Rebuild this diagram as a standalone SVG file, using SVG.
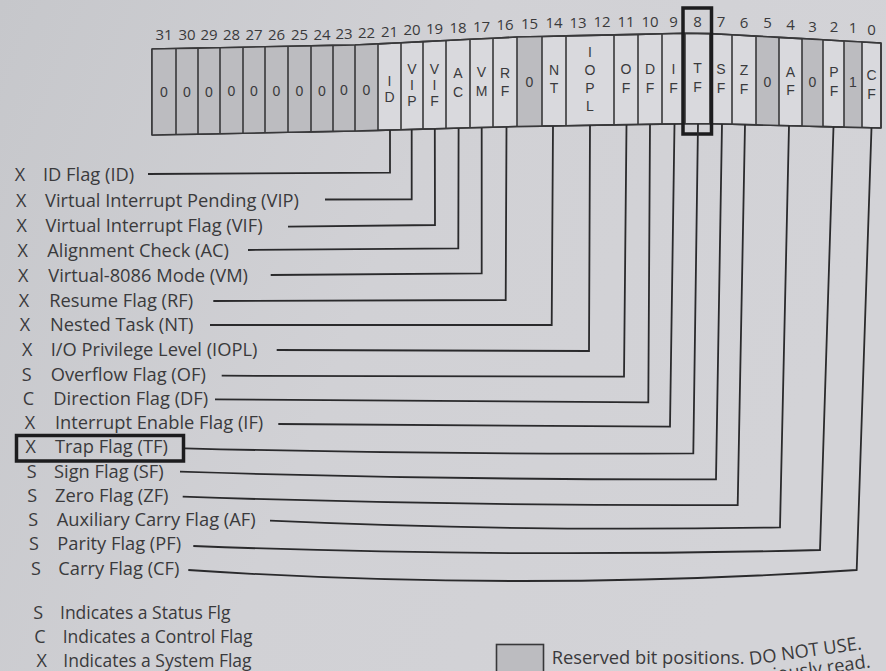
<svg xmlns="http://www.w3.org/2000/svg" width="886" height="671" viewBox="0 0 886 671">
<defs>
<linearGradient id="bg" x1="0" y1="0" x2="1" y2="0.3">
<stop offset="0" stop-color="#c6c7cb"/>
<stop offset="0.5" stop-color="#d1d1d5"/>
<stop offset="1" stop-color="#d3d3d7"/>
</linearGradient>
<style>
text{font-family:"Open Sans","Noto Sans","Liberation Sans",sans-serif;fill:#3a3a3c}
.lbl{font-size:18.3px}
.leg{font-size:17.5px}
.key{font-size:18px;text-anchor:middle}
.cell{font-family:"Liberation Sans","DejaVu Sans",sans-serif;font-size:14px;text-anchor:middle}
.num{font-size:15px;text-anchor:middle}
.conn{fill:none;stroke:#2a2a2c;stroke-width:1.8}
.reg{fill:#d9d9dd;stroke:#38383a;stroke-width:1.6}
.res{fill:#bcbcc0;stroke:none}
.div{fill:none;stroke:#38383a;stroke-width:1.6}
.hl{fill:none;stroke:#1c1c1e;stroke-width:3.5}
</style>
</defs>
<rect width="886" height="671" fill="url(#bg)"/>

<g id="register">
<path class="reg" d="M152,49 L176,48.5 L198,48.1 L220,47.7 L243,47.2 L265,46.8 L288,46.3 L311,45.9 L333,45.4 L355,45 L378,43.9 L401,42.7 L423,41.6 L446,40.5 L470,39.3 L493,38.2 L517,37 L542,36.5 L566,35.9 L614,34.9 L638,34.4 L662,33.8 L685,33.3 L710,33.6 L732,34.8 L756,36.1 L779,37.4 L802,38.6 L823,39.8 L844,41 L862,42 L881,43 L881,128 L862,127.5 L844,127.1 L823,126.6 L802,126 L779,125.5 L756,124.9 L732,124.3 L710,123.7 L685,123.7 L662,124.1 L638,124.5 L614,124.9 L566,125.7 L542,126.1 L517,126.5 L493,127.2 L470,127.8 L446,128.5 L423,129.1 L401,129.7 L378,130.4 L355,131 L333,131.4 L311,131.9 L288,132.3 L265,132.8 L243,133.2 L220,133.7 L198,134.1 L176,134.5 L152,135 Z"/>
<polygon class="res" points="152,49 176,48.5 198,48.1 220,47.7 243,47.2 265,46.8 288,46.3 311,45.9 333,45.4 355,45 378,43.9 378,130.4 355,131 333,131.4 311,131.9 288,132.3 265,132.8 243,133.2 220,133.7 198,134.1 176,134.5 152,135"/>
<polygon class="res" points="517,37 542,36.5 542,126.1 517,126.5"/>
<polygon class="res" points="756,36.1 779,37.4 779,125.5 756,124.9"/>
<polygon class="res" points="802,38.6 823,39.8 823,126.6 802,126"/>
<polygon class="res" points="844,41 862,42 862,127.5 844,127.1"/>
<path class="div" d="M152,49 L152,135 M881,128 L881,43 M176,48.5 V134.5 M198,48.1 V134.1 M220,47.7 V133.7 M243,47.2 V133.2 M265,46.8 V132.8 M288,46.3 V132.3 M311,45.9 V131.9 M333,45.4 V131.4 M355,45 V131 M378,43.9 V130.4 M401,42.7 V129.7 M423,41.6 V129.1 M446,40.5 V128.5 M470,39.3 V127.8 M493,38.2 V127.2 M517,37 V126.5 M542,36.5 V126.1 M566,35.9 V125.7 M614,34.9 V124.9 M638,34.4 V124.5 M662,33.8 V124.1 M685,33.3 V123.7 M710,33.6 V123.7 M732,34.8 V124.3 M756,36.1 V124.9 M779,37.4 V125.5 M802,38.6 V126 M823,39.8 V126.6 M844,41 V127.1 M862,42 V127.5"/>
<path class="div" d="M152,49 L176,48.5 L198,48.1 L220,47.7 L243,47.2 L265,46.8 L288,46.3 L311,45.9 L333,45.4 L355,45 L378,43.9 L401,42.7 L423,41.6 L446,40.5 L470,39.3 L493,38.2 L517,37 L542,36.5 L566,35.9 L614,34.9 L638,34.4 L662,33.8 L685,33.3 L710,33.6 L732,34.8 L756,36.1 L779,37.4 L802,38.6 L823,39.8 L844,41 L862,42 L881,43 M881,128 L862,127.5 L844,127.1 L823,126.6 L802,126 L779,125.5 L756,124.9 L732,124.3 L710,123.7 L685,123.7 L662,124.1 L638,124.5 L614,124.9 L566,125.7 L542,126.1 L517,126.5 L493,127.2 L470,127.8 L446,128.5 L423,129.1 L401,129.7 L378,130.4 L355,131 L333,131.4 L311,131.9 L288,132.3 L265,132.8 L243,133.2 L220,133.7 L198,134.1 L176,134.5 L152,135"/>
<g>
<text class="num" x="164" y="40">31</text><text class="num" x="187" y="40">30</text><text class="num" x="209" y="40">29</text><text class="num" x="231.5" y="40">28</text><text class="num" x="254" y="40">27</text><text class="num" x="276.5" y="40">26</text><text class="num" x="299.5" y="40">25</text><text class="num" x="322" y="39.5">24</text><text class="num" x="344" y="39">23</text><text class="num" x="366.5" y="38.3">22</text><text class="num" x="389.5" y="36.7">21</text><text class="num" x="412" y="35">20</text><text class="num" x="434.5" y="34.3">19</text><text class="num" x="458" y="33.3">18</text><text class="num" x="481.5" y="32.3">17</text><text class="num" x="505" y="30">16</text><text class="num" x="529.5" y="29">15</text><text class="num" x="554" y="28.3">14</text><text class="num" x="578" y="27.7">13</text><text class="num" x="602" y="27">12</text><text class="num" x="626" y="26.7">11</text><text class="num" x="650" y="26.7">10</text><text class="num" x="673.5" y="26.7">9</text><text class="num" x="697.5" y="26.7">8</text><text class="num" x="721" y="26.7">7</text><text class="num" x="744" y="28.3">6</text><text class="num" x="767.5" y="28.3">5</text><text class="num" x="790.5" y="30">4</text><text class="num" x="812.5" y="31.7">3</text><text class="num" x="834" y="31.7">2</text><text class="num" x="853" y="33.3">1</text><text class="num" x="871.5" y="35">0</text>
</g>
<g>
<text class="cell" x="164" y="96.5">0</text><text class="cell" x="187" y="96.5">0</text><text class="cell" x="209" y="96.5">0</text><text class="cell" x="231.5" y="96.3">0</text><text class="cell" x="254" y="96.1">0</text><text class="cell" x="276.5" y="95.9">0</text><text class="cell" x="299.5" y="95.7">0</text><text class="cell" x="322" y="95.5">0</text><text class="cell" x="344" y="95.3">0</text><text class="cell" x="366.5" y="95">0</text>
<text class="cell" x="389.5" y="86">I</text><text class="cell" x="389.5" y="102">D</text>
<text class="cell" x="412" y="74">V</text><text class="cell" x="412" y="90">I</text><text class="cell" x="412" y="106">P</text>
<text class="cell" x="434.5" y="73.5">V</text><text class="cell" x="434.5" y="89.5">I</text><text class="cell" x="434.5" y="105.5">F</text>
<text class="cell" x="458" y="78">A</text><text class="cell" x="458" y="97">C</text>
<text class="cell" x="481.5" y="77">V</text><text class="cell" x="481.5" y="96">M</text>
<text class="cell" x="505" y="78">R</text><text class="cell" x="505" y="96">F</text>
<text class="cell" x="529.5" y="86.5">0</text>
<text class="cell" x="554" y="75">N</text><text class="cell" x="554" y="93">T</text>
<text class="cell" x="590" y="57">I</text><text class="cell" x="590" y="75">O</text><text class="cell" x="590" y="93">P</text><text class="cell" x="590" y="111">L</text>
<text class="cell" x="626" y="73.5">O</text><text class="cell" x="626" y="92.5">F</text>
<text class="cell" x="650" y="73.5">D</text><text class="cell" x="650" y="92.5">F</text>
<text class="cell" x="673.5" y="73.5">I</text><text class="cell" x="673.5" y="92.5">F</text>
<text class="cell" x="697.5" y="72.5">T</text><text class="cell" x="697.5" y="92">F</text>
<text class="cell" x="721" y="74">S</text><text class="cell" x="721" y="93">F</text>
<text class="cell" x="744" y="75">Z</text><text class="cell" x="744" y="94">F</text>
<text class="cell" x="767.5" y="86.5">0</text>
<text class="cell" x="790.5" y="76.5">A</text><text class="cell" x="790.5" y="95">F</text>
<text class="cell" x="812.5" y="87">0</text>
<text class="cell" x="834" y="77">P</text><text class="cell" x="834" y="96">F</text>
<text class="cell" x="853" y="87">1</text>
<text class="cell" x="871.5" y="80">C</text><text class="cell" x="871.5" y="99">F</text>
</g>
<rect class="hl" x="683" y="8" width="28.5" height="126"/>
</g>

<g id="connectors">
<path class="conn" d="M148,174 L390,172.7 L390,130"/>
<path class="conn" d="M325,199.5 L411.7,199.3 L411.7,129.6"/>
<path class="conn" d="M288,226.7 L435,225 L434.8,129"/>
<path class="conn" d="M248,250 L458.3,248.3 L458.6,128.5"/>
<path class="conn" d="M270.7,275 L481.7,273.3 L481.7,127.9"/>
<path class="conn" d="M213.3,301 L505.7,300 L506.5,127.2"/>
<path class="conn" d="M210,325 L551.7,325 L553,126.2"/>
<path class="conn" d="M276.7,350 L589,351 L590,125.3"/>
<path class="conn" d="M221.7,375.7 L624,376.7 L626.5,124.9"/>
<path class="conn" d="M215,399.3 L648.3,402.3 L650,124.4"/>
<path class="conn" d="M278.3,424 L670,426.7 L674.5,124"/>
<path class="conn" d="M185,448.3 Q440,455 693.3,453.3 L698,123.8"/>
<path class="conn" d="M180,471.7 Q450,480 716,479.3 L722,124.1"/>
<path class="conn" d="M182.7,496.7 Q460,506 737.7,505 L745,124.5"/>
<path class="conn" d="M270,520.7 Q520,532 780,527.3 L789,125.7"/>
<path class="conn" d="M193.3,546 Q500,558 820,550 L833.5,126.8"/>
<path class="conn" d="M188.3,570 Q520,592 856.7,570 L871.5,127.7"/>
</g>

<g id="flag-id"><text class="key" x="20" y="181">X</text><text class="lbl" x="43" y="181">ID Flag (ID)</text></g>
<g id="flag-vip"><text class="key" x="21.3" y="206.5">X</text><text class="lbl" x="45" y="206.5">Virtual Interrupt Pending (VIP)</text></g>
<g id="flag-vif"><text class="key" x="21.7" y="232">X</text><text class="lbl" x="45.5" y="232">Virtual Interrupt Flag (VIF)</text></g>
<g id="flag-ac"><text class="key" x="22.7" y="256.5">X</text><text class="lbl" x="47.3" y="256.5">Alignment Check (AC)</text></g>
<g id="flag-vm"><text class="key" x="23.3" y="282">X</text><text class="lbl" x="48.3" y="282">Virtual-8086 Mode (VM)</text></g>
<g id="flag-rf"><text class="key" x="24" y="306.5">X</text><text class="lbl" x="49.3" y="306.5">Resume Flag (RF)</text></g>
<g id="flag-nt"><text class="key" x="25" y="331">X</text><text class="lbl" x="50" y="331">Nested Task (NT)</text></g>
<g id="flag-iopl"><text class="key" x="27.3" y="356">X</text><text class="lbl" x="50.7" y="356">I/O Privilege Level (IOPL)</text></g>
<g id="flag-of"><text class="key" x="26.7" y="381">S</text><text class="lbl" x="50.7" y="381">Overflow Flag (OF)</text></g>
<g id="flag-df"><text class="key" x="28.3" y="404.5">C</text><text class="lbl" x="53.3" y="404.5">Direction Flag (DF)</text></g>
<g id="flag-if"><text class="key" x="30" y="428.5">X</text><text class="lbl" x="55" y="428.5">Interrupt Enable Flag (IF)</text></g>
<g id="flag-tf"><text class="key" x="30.7" y="452.5">X</text><text class="lbl" x="55" y="452.5">Trap Flag (TF)</text><rect class="hl" x="16.5" y="435.5" width="167" height="25.5" stroke-width="3"/></g>
<g id="flag-sf"><text class="key" x="31.7" y="477.5">S</text><text class="lbl" x="54" y="477.5">Sign Flag (SF)</text></g>
<g id="flag-zf"><text class="key" x="32.3" y="502">S</text><text class="lbl" x="55" y="502">Zero Flag (ZF)</text></g>
<g id="flag-af"><text class="key" x="33.3" y="526">S</text><text class="lbl" x="56.7" y="526">Auxiliary Carry Flag (AF)</text></g>
<g id="flag-pf"><text class="key" x="34" y="550">S</text><text class="lbl" x="57.3" y="550">Parity Flag (PF)</text></g>
<g id="flag-cf"><text class="key" x="36" y="574.5">S</text><text class="lbl" x="58.3" y="574.5">Carry Flag (CF)</text></g>

<g id="legend-types">
<text class="key leg" x="38.3" y="618.5">S</text><text class="leg" x="60" y="618.5">Indicates a Status Flg</text>
<text class="key leg" x="40" y="642.5">C</text><text class="leg" x="62.7" y="642.5">Indicates a Control Flag</text>
<text class="key leg" x="41.7" y="666.5">X</text><text class="leg" x="63.3" y="666.5">Indicates a System Flag</text>
</g>

<g id="legend-reserved">
<rect x="496.5" y="644.5" width="47" height="40" fill="#bcbcc0" stroke="#38383a" stroke-width="1.6"/>
<text class="lbl" x="551.7" y="664">Reserved bit positions.</text>
<text class="lbl" x="750" y="665" font-size="16" transform="rotate(-8 750 665)">DO NOT USE.</text>
<text class="lbl" x="774" y="681" font-size="16" transform="rotate(-8 774 681)">iously read.</text>
</g>
</svg>
